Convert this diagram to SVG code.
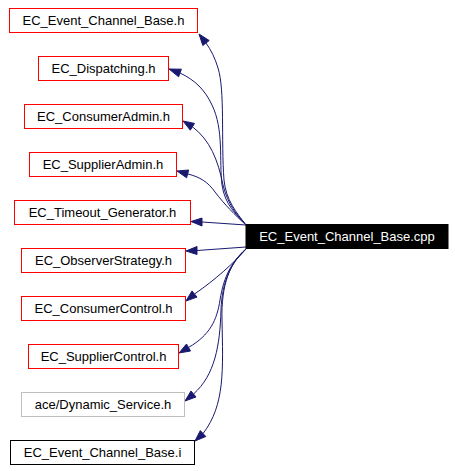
<svg xmlns="http://www.w3.org/2000/svg" width="455" height="471" viewBox="0 0 455 471">
<style>
.n rect{fill:#fff;stroke-width:1}
.r rect{stroke:#ff0000}
.g rect{stroke:#bfbfbf}
.k rect{stroke:#000}
text{font-family:"Liberation Sans",Arial,sans-serif;font-size:13px;text-anchor:middle;fill:#000}
.e path{fill:none;stroke:#191970;stroke-width:1}
.e polygon{fill:#191970;stroke:#191970;stroke-width:1}
</style>
<rect width="455" height="471" fill="#fff"/>
<g class="e" id="edges">
<path d="M246,225 C236,212 226,200 224,180 C221,140 225,90 218,68 C215,58 211,50 206,43"/>
<polygon points="199,34 202.8,45.5 209.2,40.5"/>
<path d="M246,225 C236,214 225,205 222,185 C219,160 224,130 212,105 C205,90 195,80 180,73"/>
<polygon points="169,69 178.6,76.8 181.4,69.2"/>
<path d="M246,225 C237,215 228,205 223,185 C218,160 210,140 192.4,126.8"/>
<polygon points="183,121 190.3,130.2 194.5,123.4"/>
<path d="M246,225 C235,215 225,205 215,192 C208,182 200,177 187.6,173.9"/>
<polygon points="177,171 186.6,177.8 188.7,170"/>
<path d="M246,225 L202,222"/>
<polygon points="191,221.5 202,218 202,226"/>
<path d="M246,247 L197,250.5"/>
<polygon points="186,251 197,246.5 197,254.5"/>
<path d="M246,249 C235,262 215,280 194.5,294"/>
<polygon points="186,301 197,297.1 192,290.9"/>
<path d="M246,249 C232,262 224,275 220,300 C217,320 210,335 188.5,347.5"/>
<polygon points="179,353 190.5,351 186.5,344"/>
<path d="M246,249 C232,262 222,280 221,310 C220,345 215,375 193.5,394"/>
<polygon points="185,401 196,397 191,391"/>
<path d="M246,249 C230,262 221,285 222,320 C223,370 225,405 203,433.6"/>
<polygon points="195,441 205.8,436.5 200.3,430.6"/>
</g>
<g id="node_main">
<rect x="246" y="224.5" width="202" height="24" fill="#000" stroke="#000"/>
<text x="347" y="241" fill="#fff" style="fill:#fff">EC_Event_Channel_Base.cpp</text>
</g>
<g id="node1" class="n r"><rect x="9.5" y="8.5" width="188" height="24"/><text x="103.5" y="25">EC_Event_Channel_Base.h</text></g>
<g id="node2" class="n r"><rect x="38.5" y="56.5" width="130" height="24"/><text x="103.5" y="73">EC_Dispatching.h</text></g>
<g id="node3" class="n r"><rect x="24.5" y="104.5" width="158" height="24"/><text x="103.5" y="121">EC_ConsumerAdmin.h</text></g>
<g id="node4" class="n r"><rect x="29.5" y="152.5" width="147" height="24"/><text x="103" y="169">EC_SupplierAdmin.h</text></g>
<g id="node5" class="n r"><rect x="14.5" y="200.5" width="176" height="24"/><text x="102.5" y="217">EC_Timeout_Generator.h</text></g>
<g id="node6" class="n r"><rect x="21.5" y="248.5" width="164" height="24"/><text x="103.5" y="265">EC_ObserverStrategy.h</text></g>
<g id="node7" class="n r"><rect x="21.5" y="296.5" width="164" height="24"/><text x="103.5" y="313">EC_ConsumerControl.h</text></g>
<g id="node8" class="n r"><rect x="28.5" y="344.5" width="150" height="24"/><text x="103.5" y="361">EC_SupplierControl.h</text></g>
<g id="node9" class="n g"><rect x="21.5" y="392.5" width="163" height="24"/><text x="103" y="409">ace/Dynamic_Service.h</text></g>
<g id="node10" class="n k"><rect x="10.5" y="440.5" width="184" height="24"/><text x="102.5" y="457">EC_Event_Channel_Base.i</text></g>
</svg>
